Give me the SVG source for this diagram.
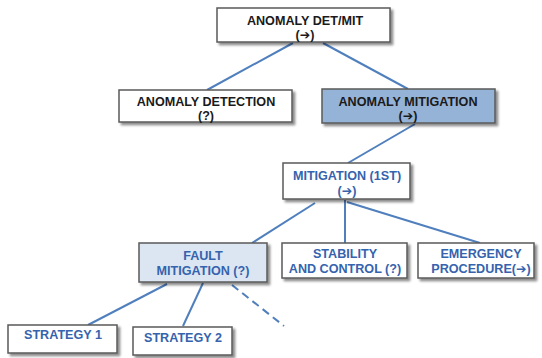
<svg xmlns="http://www.w3.org/2000/svg" width="542" height="358" viewBox="0 0 542 358">
  <defs>
    <filter id="shadow" x="-10%" y="-20%" width="125%" height="150%">
      <feDropShadow dx="2.5" dy="2.5" stdDeviation="1.2" flood-color="#000" flood-opacity="0.45"/>
    </filter>
  </defs>
  <style>
    .box { fill: #ffffff; stroke: #5a5a5a; stroke-width: 1.5; filter: url(#shadow); }
    .box.dark { fill: #95b3d7; }
    .box.light { fill: #dce6f2; }
    .lbl { font-family: "Liberation Sans", Arial, sans-serif; font-weight: bold; font-size: 12.6px; text-anchor: middle; }
    .arr { font-family: "DejaVu Sans", sans-serif; font-weight: normal; font-size: 12.5px; }
    .blk { fill: #1a1a1a; }
    .blu { fill: #3563ad; }
    .conn line { stroke: #4f7fbd; stroke-width: 2; }
    .conn line.dash { stroke-dasharray: 8 5; }
  </style>

  <g id="connectors" class="conn">
    <line x1="293" y1="43" x2="207" y2="90"/>
    <line x1="323" y1="43" x2="408" y2="89"/>
    <line x1="415" y1="124" x2="348" y2="163"/>
    <line x1="315" y1="203" x2="252" y2="243"/>
    <line x1="345" y1="200" x2="345" y2="243"/>
    <line x1="347" y1="202" x2="480" y2="243"/>
    <line x1="167" y1="284" x2="88" y2="325"/>
    <line x1="203" y1="283" x2="183" y2="326"/>
    <line class="dash" x1="232" y1="285" x2="284" y2="326"/>
  </g>

  <g id="anomaly-det-mit">
    <rect class="box" x="217" y="8" width="173" height="34"/>
    <text class="lbl blk" x="305" y="24.5">ANOMALY DET/MIT</text>
    <text class="lbl blk" x="305" y="38.5">(<tspan class="arr">➔</tspan>)</text>
  </g>

  <g id="anomaly-detection">
    <rect class="box" x="119" y="90" width="173" height="32"/>
    <text class="lbl blk" x="206" y="106">ANOMALY DETECTION</text>
    <text class="lbl blk" x="206" y="119.5">(?)</text>
  </g>

  <g id="anomaly-mitigation">
    <rect class="box dark" x="322" y="89" width="173" height="34"/>
    <text class="lbl blk" x="408" y="106">ANOMALY MITIGATION</text>
    <text class="lbl blk" x="408" y="120">(<tspan class="arr">➔</tspan>)</text>
  </g>

  <g id="mitigation-1st">
    <rect class="box" x="283" y="163" width="127" height="36"/>
    <text class="lbl blu" x="347" y="180">MITIGATION (1ST)</text>
    <text class="lbl blu" x="347" y="194.5">(<tspan class="arr">➔</tspan>)</text>
  </g>

  <g id="fault-mitigation">
    <rect class="box light" x="139" y="243" width="128" height="39"/>
    <text class="lbl blu" x="203" y="260">FAULT</text>
    <text class="lbl blu" x="203" y="275">MITIGATION (?)</text>
  </g>

  <g id="stability-control">
    <rect class="box" x="282" y="243" width="125" height="35"/>
    <text class="lbl blu" x="345" y="258">STABILITY</text>
    <text class="lbl blu" x="345" y="273">AND CONTROL (?)</text>
  </g>

  <g id="emergency-procedure">
    <rect class="box" x="418" y="243" width="116" height="35"/>
    <text class="lbl blu" x="481" y="258">EMERGENCY</text>
    <text class="lbl blu" x="481" y="273">PROCEDURE(<tspan class="arr">➔</tspan>)</text>
  </g>

  <g id="strategy-1">
    <rect class="box" x="8" y="325" width="109" height="28"/>
    <text class="lbl blu" x="63" y="339">STRATEGY 1</text>
  </g>

  <g id="strategy-2">
    <rect class="box" x="133" y="327" width="99" height="28"/>
    <text class="lbl blu" x="183" y="342">STRATEGY 2</text>
  </g>
</svg>
